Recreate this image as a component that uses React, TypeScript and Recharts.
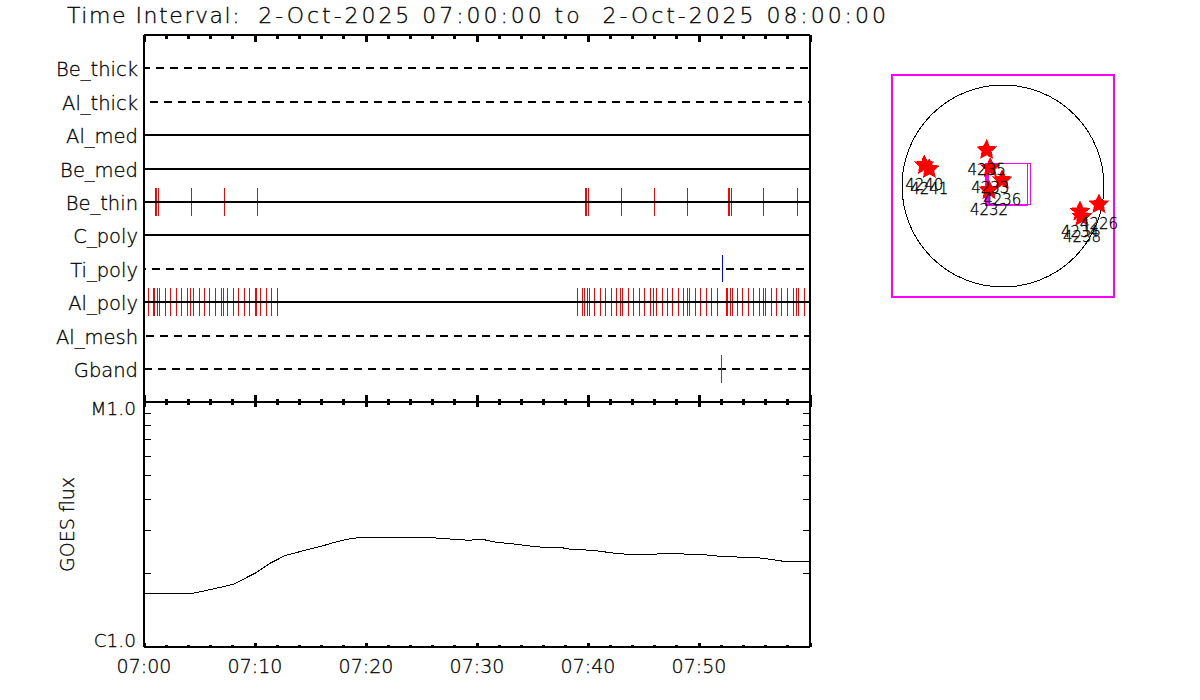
import React from "react";
import {
  ComposedChart,
  ScatterChart,
  Scatter,
  Line,
  XAxis,
  YAxis,
  ReferenceLine,
  ReferenceArea,
  ReferenceDot,
  Label,
} from "recharts";

const WIDTH = 1200;
const HEIGHT = 700;
const FONT = "'DejaVu Sans', sans-serif";

const TITLE_LEAD = "Time Interval:  ";
const TITLE_RANGE = "2-Oct-2025 07:00:00 to  2-Oct-2025 08:00:00";

// detector rows, bottom to top
const rowNames = ["Gband", "Al_mesh", "Al_poly", "Ti_poly", "C_poly", "Be_thin", "Be_med", "Al_med", "Al_thick", "Be_thick"];
const rowTicks = [1, 2, 3, 4, 5, 6, 7, 8, 9, 10];
// null = solid, number = dash phase of the dashed rows
const rowDash = [0, 12, null, 6, null, null, null, null, 8, 2];

// event times, minutes after 07:00
const beThinEvents = [1.04, 1.13, 1.31, 4.28, 7.25, 10.23, 39.77, 39.86, 40.05, 43.02, 45.99, 48.96, 52.66, 52.75, 52.93, 55.81, 58.87];
const alPolyEvents = [
  0.41, 0.86, 0.95, 1.22, 1.4, 1.94, 2.39, 2.93, 3.38, 3.92, 4.19, 4.46, 5.0, 5.45, 5.9, 6.44, 6.98, 7.16, 7.52, 8.06, 8.51, 9.05, 9.5, 10.05, 10.14, 10.5, 11.04, 11.49, 12.03,
  39.05, 39.5, 39.68, 39.95, 40.14, 40.59, 41.13, 41.58, 42.12, 42.57, 42.93, 43.11, 43.65, 44.1, 44.64, 45.09, 45.63, 45.9, 46.17, 46.71, 47.16, 47.61, 48.15, 48.6, 48.96, 49.14, 49.68, 50.14, 50.68, 51.13, 51.67, 52.48, 52.57, 52.84, 53.02, 53.47, 53.92, 54.46, 54.91, 55.45, 55.81, 55.99, 56.53, 56.98, 57.43, 57.97, 58.51, 58.78, 58.96, 59.5, 59.95,
];
const tiPolyEvents = [52.12];
const gbandEvents = [52.03];

const timeSpan = [{ t: 0 }, { t: 60 }];
const timeTicks = [0, 2, 4, 6, 8, 10, 12, 14, 16, 18, 20, 22, 24, 26, 28, 30, 32, 34, 36, 38, 40, 42, 44, 46, 48, 50, 52, 54, 56, 58, 60];
const timeLabels = ["07:00", "07:10", "07:20", "07:30", "07:40", "07:50"];

// GOES curve
const goesMinutes = [0, 0.5, 4.1, 6.24, 8.05, 10, 11.35, 12.7, 14.35, 16.16, 17.36, 18.26, 19.6, 25.47, 27.57, 29.37, 29.97, 30.54, 31.77, 33.58, 35.52, 37.48, 38.38, 40.48, 42.43, 43.63, 46.49, 47.39, 48.59, 50.39, 51.6, 53.4, 55.5, 56.4, 57.6, 60];
const goesFlux = [1.656, 1.646, 1.646, 1.725, 1.803, 2.0, 2.196, 2.359, 2.472, 2.592, 2.69, 2.751, 2.804, 2.804, 2.759, 2.726, 2.747, 2.747, 2.675, 2.625, 2.56, 2.552, 2.505, 2.481, 2.412, 2.39, 2.397, 2.412, 2.397, 2.381, 2.352, 2.33, 2.308, 2.28, 2.238, 2.238];
const fluxTicks = [1e-6, 2e-6, 3e-6, 4e-6, 5e-6, 6e-6, 7e-6, 8e-6, 9e-6, 1e-5];

// active regions on the disc, arcsec
const regionNames = ["4235", "4233", "4236", "4232", "4240", "4241", "4234", "4238", "4226"];
const regionX = [-162, -126, -7, -139, -780, -730, 763, 783, 951];
const regionY = [357, 178, 59, -40, 208, 168, -253, -304, -181];
const fovBoxes = [
  { x1: -168, x2: 245, y1: -188, y2: 223 },
  { x1: -150, x2: 271, y1: -183, y2: 223 },
];

const goesData = goesMinutes.map((t, i) => ({ t, flux: goesFlux[i] * 1e-6 }));
const regionData = regionNames.map((name, i) => ({ name, x: regionX[i], y: regionY[i] }));

const axisLine = { stroke: "#000", strokeWidth: 2 };
const labelStyle = { fontFamily: FONT, fontWeight: 200, fill: "#000", stroke: "#000", strokeWidth: 0.3 };

function TopTick({ x, y, payload }: any) {
  const major = payload.value % 10 === 0;
  return <line x1={x} x2={x} y1={y} y2={y + (major ? 7 : 4)} stroke="#000" strokeWidth={3} />;
}

function UpperBottomTick({ x, y, payload }: any) {
  const major = payload.value % 10 === 0;
  return <line x1={x} x2={x} y1={y} y2={y - (major ? 7 : 3)} stroke="#000" strokeWidth={3} />;
}

function LowerTopTick({ x, y, payload }: any) {
  const major = payload.value % 10 === 0;
  return <line x1={x} x2={x} y1={y} y2={y + (major ? 5 : 3)} stroke="#000" strokeWidth={3} />;
}

function RowTick({ x, y, payload }: any) {
  return (
    <text x={x - 6} y={y + 8} textAnchor="end" fontSize={19.5} style={labelStyle}>
      {rowNames[payload.value - 1]}
    </text>
  );
}

function TimeTick({ x, y, payload }: any) {
  const major = payload.value % 10 === 0;
  return (
    <g>
      <line x1={x} x2={x} y1={y} y2={y - (major ? 4 : 2)} stroke="#000" strokeWidth={3} />
      {major && payload.value < 60 && (
        <text x={x} y={y + 26} textAnchor="middle" fontSize={19} style={labelStyle}>
          {timeLabels[payload.value / 10]}
        </text>
      )}
    </g>
  );
}

function FluxTickLeft({ x, y, payload }: any) {
  const v = payload.value;
  const end = v === 1e-5 || v === 1e-6;
  return (
    <g>
      {!end && <line x1={x} x2={x + 7} y1={y} y2={y} stroke="#000" strokeWidth={1} />}
      {v === 1e-5 && (
        <text x={x - 8} y={y + 13} textAnchor="end" fontSize={18.5} style={labelStyle}>
          M1.0
        </text>
      )}
      {v === 1e-6 && (
        <text x={x - 8} y={y} textAnchor="end" fontSize={18.5} style={labelStyle}>
          C1.0
        </text>
      )}
    </g>
  );
}

function FluxTickRight({ x, y, payload }: any) {
  const v = payload.value;
  if (v === 1e-5 || v === 1e-6) return <g />;
  return <line x1={x} x2={x - 7} y1={y} y2={y} stroke="#000" strokeWidth={1} />;
}

function Star({ cx, cy }: any) {
  const pts: string[] = [];
  for (let i = 0; i < 10; i++) {
    const r = i % 2 === 0 ? 10.5 : 5;
    const a = (-90 + i * 36) * (Math.PI / 180);
    pts.push(`${cx + r * Math.cos(a)},${cy + r * Math.sin(a)}`);
  }
  return <polygon points={pts.join(" ")} fill="#f00" stroke="#f00" strokeWidth={0.5} />;
}

function RegionName({ cx, cy, payload }: any) {
  return (
    <text x={cx} y={cy + 25} textAnchor="middle" fontSize={15} style={labelStyle}>
      {payload.name}
    </text>
  );
}

function eventLines(row: number, times: number[], color: string) {
  return times.map((t) => (
    <ReferenceLine
      key={`${row}-${t}`}
      segment={[
        { x: t, y: row - 0.41 },
        { x: t, y: row + 0.41 },
      ]}
      stroke={color}
      strokeWidth={1}
    />
  ));
}

const layer: React.CSSProperties = { position: "absolute", left: 0, top: 0 };

export default function App() {
  return (
    <div style={{ ...layer, width: WIDTH, height: HEIGHT, background: "#fff", shapeRendering: "crispEdges", overflow: "hidden" }}>
      <div
        style={{
          ...layer,
          left: 67,
          top: 3,
          fontFamily: FONT,
          fontWeight: 200,
          fontSize: 22,
          whiteSpace: "pre",
          color: "#000",
          WebkitTextStroke: "0.3px #000",
        }}
      >
        <span style={{ letterSpacing: 1.55 }}>{TITLE_LEAD}</span>
        <span style={{ letterSpacing: 2.95 }}>{TITLE_RANGE}</span>
      </div>

      {/* detector timeline */}
      <div style={layer}>
        <ComposedChart width={WIDTH} height={HEIGHT} data={timeSpan} margin={{ top: 34, left: 143, right: 389, bottom: 296.7 }}>
          <XAxis
            xAxisId="bottom"
            dataKey="t"
            type="number"
            orientation="bottom"
            domain={[0, 60]}
            ticks={timeTicks}
            interval={0}
            height={1}
            tickSize={0}
            tickMargin={0}
            tick={<UpperBottomTick />}
            tickLine={false}
            axisLine={axisLine}
          />
          <XAxis
            dataKey="t"
            type="number"
            orientation="top"
            domain={[0, 60]}
            ticks={timeTicks}
            interval={0}
            height={1}
            tickSize={0}
            tickMargin={0}
            tick={<TopTick />}
            tickLine={false}
            axisLine={axisLine}
          />
          <YAxis
            type="number"
            domain={[0, 11]}
            allowDataOverflow
            ticks={rowTicks}
            interval={0}
            width={1}
            tickSize={0}
            tickMargin={0}
            tickLine={false}
            tick={<RowTick />}
            axisLine={axisLine}
          />
          <YAxis yAxisId="right" orientation="right" type="number" domain={[0, 11]} allowDataOverflow width={1} tick={false} tickLine={false} axisLine={axisLine} />
          {eventLines(6, beThinEvents, "#f00")}
          {eventLines(3, alPolyEvents, "#f00")}
          {rowTicks.map((row, i) => (
            <ReferenceLine
              key={row}
              y={row}
              stroke="#000"
              strokeWidth={2}
              strokeDasharray={rowDash[i] === null ? undefined : "8 6"}
              strokeDashoffset={rowDash[i] === null ? undefined : rowDash[i]}
            />
          ))}
          {eventLines(4, tiPolyEvents, "#00f")}
          {eventLines(1, gbandEvents, "#f00")}
        </ComposedChart>
      </div>

      {/* GOES flux */}
      <div style={layer}>
        <ComposedChart width={WIDTH} height={HEIGHT} data={goesData} margin={{ top: 401, left: 143, right: 389, bottom: 52 }}>
          <XAxis
            dataKey="t"
            type="number"
            orientation="bottom"
            domain={[0, 60]}
            ticks={timeTicks}
            interval={0}
            height={1}
            tickSize={0}
            tickMargin={0}
            tick={<TimeTick />}
            tickLine={false}
            axisLine={axisLine}
          />
          <XAxis
            xAxisId="top"
            dataKey="t"
            type="number"
            orientation="top"
            domain={[0, 60]}
            ticks={timeTicks}
            interval={0}
            height={1}
            tickSize={0}
            tickMargin={0}
            tick={<LowerTopTick />}
            tickLine={false}
            axisLine={axisLine}
          />
          <YAxis
            type="number"
            scale="log"
            domain={[1e-6, 1e-5]}
            allowDataOverflow
            ticks={fluxTicks}
            interval={0}
            width={1}
            tickSize={0}
            tickMargin={0}
            tick={<FluxTickLeft />}
            tickLine={false}
            axisLine={axisLine}
          >
            <Label value="GOES flux" angle={-90} position="left" offset={76} style={{ fontSize: 19, textAnchor: "middle", ...labelStyle }} />
          </YAxis>
          <YAxis
            yAxisId="right"
            orientation="right"
            type="number"
            scale="log"
            domain={[1e-6, 1e-5]}
            allowDataOverflow
            ticks={fluxTicks}
            interval={0}
            width={1}
            tickSize={0}
            tickMargin={0}
            tick={<FluxTickRight />}
            tickLine={false}
            axisLine={axisLine}
          />
          <Line dataKey="flux" type="linear" stroke="#000" strokeWidth={1} dot={false} isAnimationActive={false} />
        </ComposedChart>
      </div>

      {/* solar disc locator */}
      <div style={layer}>
        <ScatterChart width={WIDTH} height={HEIGHT} margin={{ top: 75, left: 892, right: 86, bottom: 403 }}>
          <XAxis dataKey="x" type="number" domain={[-1100, 1100]} hide />
          <YAxis dataKey="y" type="number" domain={[-1100, 1100]} hide />
          <ReferenceArea x1={-1100} x2={1100} y1={-1100} y2={1100} fill="none" stroke="#f0f" strokeWidth={2} fillOpacity={0} />
          <ReferenceDot x={0} y={0} r={101} fill="none" stroke="#000" strokeWidth={1} />
          {fovBoxes.map((b) => (
            <ReferenceArea key={b.x1} x1={b.x1} x2={b.x2} y1={b.y1} y2={b.y2} fill="none" stroke="#f0f" strokeWidth={1.5} fillOpacity={0} />
          ))}
          <Scatter data={regionData} shape={<Star />} isAnimationActive={false} />
          <Scatter data={regionData} shape={<RegionName />} isAnimationActive={false} />
        </ScatterChart>
      </div>
    </div>
  );
}
